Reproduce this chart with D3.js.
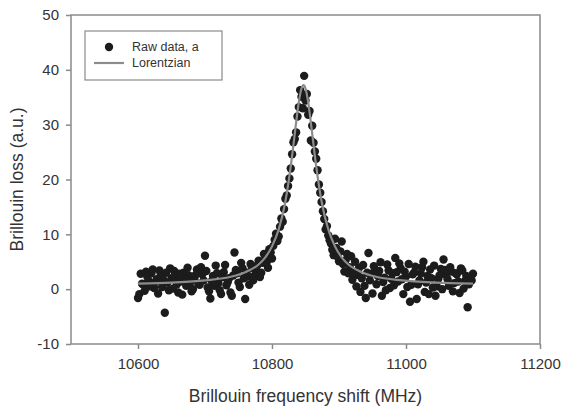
<!DOCTYPE html>
<html>
<head>
<meta charset="utf-8">
<script src="https://cdn.jsdelivr.net/npm/d3@7"></script>
<style>
  body { margin: 0; background: #fff; }
  text { font-family: Arial, "Liberation Sans", sans-serif; fill: #333; }
</style>
</head>
<body>
<script>
const width = 562;
const height = 412;

// raw points [frequency MHz, loss a.u.]
const rawData = [
  [10600, -1.6], [10602, -0.9], [10604, 2.8], [10608, 0.9], [10612, 3.2], [10616, 1.5],
  [10620, 2.9], [10624, 0.2], [10628, 1.8], [10632, 3.4], [10636, 0.4], [10640, -4.3],
  [10644, 1.2], [10648, 3.8], [10652, 0.1], [10656, 2.2], [10660, -0.6], [10664, 1.4],
  [10668, 3.0], [10672, 0.6], [10676, 2.5], [10680, -0.4], [10684, 1.9], [10688, 3.6],
  [10692, 0.8], [10696, 2.7], [10700, 6.1], [10704, 0.3], [10708, -1.7], [10712, 2.4],
  [10716, 4.3], [10720, 1.1], [10724, -0.9], [10728, 3.1], [10732, 0.7], [10736, 2.0],
  [10740, -1.2], [10744, 6.7], [10748, 2.9], [10752, 0.4], [10756, 3.8], [10760, -1.8],
  [10764, 2.3], [10768, 4.6], [10772, 1.6], [10776, 3.4], [10780, 5.2], [10784, 3.0],
  [10788, 6.4], [10792, 4.9], [10796, 7.3], [10800, 5.6], [10804, 9.0], [10808, 8.8],
  [10812, 11.4], [10816, 12.3], [10820, 16.5], [10824, 18.8], [10828, 22.0], [10832, 26.8],
  [10836, 28.6], [10838, 31.5], [10840, 33.2], [10842, 36.3], [10844, 35.1], [10846, 33.0],
  [10848, 38.9], [10850, 34.4], [10852, 35.6], [10854, 31.8], [10856, 32.5], [10858, 27.1],
  [10860, 29.8], [10864, 25.1], [10868, 21.7], [10872, 17.6], [10876, 14.2], [10880, 10.9],
  [10884, 9.8], [10888, 8.3], [10892, 6.2], [10896, 7.5], [10900, 5.1], [10904, 8.7],
  [10908, 3.2], [10912, 6.4], [10916, 4.0], [10920, 1.7], [10924, 5.0], [10928, 2.6],
  [10932, -0.5], [10936, 4.4], [10940, -1.6], [10944, 6.6], [10948, 2.8], [10952, 4.2],
  [10956, 0.9], [10960, 3.3], [10964, -1.2], [10968, 2.1], [10972, 4.5], [10976, 0.2],
  [10980, 2.9], [10984, 5.7], [10988, 1.4], [10992, 3.8], [10996, -0.9], [11000, 2.3],
  [11004, 4.6], [11006, -2.3], [11008, 0.8], [11012, 3.0], [11016, -1.8], [11020, 1.6],
  [11024, 4.0], [11028, -0.5], [11032, 2.4], [11036, 3.6], [11040, 0.3], [11044, -1.2],
  [11048, 1.8], [11052, 3.7], [11056, 5.4], [11060, 2.6], [11064, 0.6], [11068, 3.2],
  [11072, 1.1], [11076, 2.7], [11080, -0.7], [11084, 3.4], [11088, 1.5], [11092, -3.3],
  [11096, 2.1], [11100, 2.8]
];

// second sweep, interleaved between the first
const rawDataB = [
  [10606, 1.0], [10610, -0.3], [10614, 2.2], [10618, 0.5], [10622, 3.6], [10626, 1.3],
  [10630, -0.8], [10634, 2.6], [10638, 1.7], [10642, 3.0], [10646, -0.2], [10650, 2.0],
  [10654, 3.3], [10658, 0.9], [10662, 2.8], [10666, -1.0], [10670, 1.9], [10674, 3.9],
  [10678, 1.2], [10682, 0.0], [10686, 2.6], [10690, 1.0], [10694, 4.0], [10698, 1.6],
  [10702, 3.3], [10706, -0.4], [10710, 1.5], [10714, 0.6], [10718, 2.9], [10722, -0.2],
  [10726, 2.2], [10730, 4.4], [10734, 1.3], [10738, -0.6], [10742, 2.5], [10746, 3.5],
  [10750, 1.2], [10754, 4.8], [10758, 2.0], [10762, 3.0], [10766, 0.8], [10770, 3.9],
  [10774, 2.5], [10778, 4.3], [10782, 2.2], [10786, 4.8], [10790, 5.6], [10794, 3.9],
  [10798, 6.7], [10802, 7.9], [10806, 10.1], [10810, 9.6], [10814, 12.9], [10818, 14.6],
  [10822, 17.1], [10826, 20.2], [10830, 24.6], [10834, 27.4], [10862, 26.7], [10866, 23.8],
  [10870, 19.1], [10874, 15.9], [10878, 12.8], [10882, 11.5], [10886, 8.9], [10890, 7.2],
  [10894, 9.2], [10898, 5.9], [10902, 6.9], [10906, 4.6], [10910, 5.3], [10914, 2.9],
  [10918, 6.0], [10922, 3.1], [10926, 0.5], [10930, 3.9], [10934, 2.0], [10938, 0.6],
  [10942, 3.0], [10946, 1.6], [10950, -0.8], [10954, 3.5], [10958, 2.4], [10962, 4.9],
  [10966, 1.3], [10970, -0.2], [10974, 3.4], [10978, 1.9], [10982, 0.7], [10986, 3.1],
  [10990, 4.7], [10994, 1.8], [10998, 3.2], [11002, 0.4], [11010, 2.7], [11014, 4.1],
  [11018, 0.9], [11022, 2.9], [11026, 5.0], [11030, 1.2], [11034, -0.9], [11038, 2.0],
  [11042, 4.3], [11046, 0.5], [11050, 2.5], [11054, 0.0], [11058, 3.5], [11062, 1.8],
  [11066, 4.0], [11070, -0.4], [11074, 2.9], [11078, 1.4], [11082, 3.8], [11086, 0.1],
  [11090, 2.4], [11094, 0.9], [11098, 1.6]
];

// fitted Lorentzian curve
const fitX = [10600, 10650, 10700, 10740, 10760, 10780, 10790, 10800, 10810, 10820,
  10825, 10830, 10835, 10840, 10844, 10847, 10850, 10854, 10859, 10864, 10869, 10874,
  10884, 10894, 10904, 10914, 10934, 10954, 10994, 11044, 11100];
const fitY = [1.0, 1.2, 1.6, 2.3, 3.1, 4.5, 5.8, 7.8, 10.9, 16.0,
  19.8, 24.3, 29.4, 34.1, 36.6, 37.2, 36.6, 34.1, 29.4, 24.3, 19.8, 16.0,
  10.9, 7.8, 5.8, 4.5, 3.1, 2.3, 1.6, 1.2, 1.0];

const xTicks = [10600, 10800, 11000, 11200];
const yTicks = [-10, 0, 10, 20, 30, 40, 50];

const plotLeft = 71, plotRight = 540, plotTop = 15, plotBottom = 344;

const xScale = d3.scaleLinear().domain([10500, 11200]).range([plotLeft, plotRight]);
const yScale = d3.scaleLinear().domain([-10, 50]).range([plotBottom, plotTop]);

const svg = d3.select("body").append("svg")
  .attr("width", width)
  .attr("height", height);

// frame
svg.append("rect")
  .attr("x", plotLeft).attr("y", plotTop)
  .attr("width", plotRight - plotLeft).attr("height", plotBottom - plotTop)
  .attr("fill", "none").attr("stroke", "#8a8a8a").attr("stroke-width", 1.5);

const plainNum = function(d) { return String(d); };

const xAxis = svg.append("g")
  .attr("transform", "translate(0," + plotBottom + ")")
  .call(d3.axisBottom(xScale).tickValues(xTicks).tickSize(5).tickPadding(9).tickFormat(plainNum));
const yAxis = svg.append("g")
  .attr("transform", "translate(" + plotLeft + ",0)")
  .call(d3.axisLeft(yScale).tickValues(yTicks).tickSize(5).tickPadding(7).tickFormat(plainNum));

[xAxis, yAxis].forEach(function(g) {
  g.select(".domain").remove();
  g.selectAll(".tick line").attr("stroke", "#8a8a8a").attr("stroke-width", 1.5);
  g.selectAll(".tick text").style("font-size", "15px").attr("fill", "#333")
    .style("font-family", "Arial, 'Liberation Sans', sans-serif");
});

// points
svg.append("g").selectAll("circle")
  .data(rawData.concat(rawDataB))
  .enter()
  .append("circle")
    .attr("cx", function(d) { return xScale(d[0]); })
    .attr("cy", function(d) { return yScale(d[1]); })
    .attr("r", 4.2)
    .attr("fill", "#1c1c1c");

// fit line
const line = d3.line()
  .x(function(d, i) { return xScale(fitX[i]); })
  .y(function(d) { return yScale(d); })
  .curve(d3.curveMonotoneX);

svg.append("path")
  .datum(fitY)
  .attr("d", line)
  .attr("fill", "none")
  .attr("stroke", "#8c8c8c")
  .attr("stroke-width", 2.2);

// legend
const legend = svg.append("g");
legend.append("rect")
  .attr("x", 85).attr("y", 31).attr("width", 137).attr("height", 49)
  .attr("fill", "#fff").attr("stroke", "#8a8a8a").attr("stroke-width", 1.2);
legend.append("circle").attr("cx", 109).attr("cy", 47).attr("r", 4.2).attr("fill", "#1c1c1c");
legend.append("line").attr("x1", 94).attr("x2", 124).attr("y1", 63).attr("y2", 63)
  .attr("stroke", "#8c8c8c").attr("stroke-width", 2.2);
legend.append("text").attr("x", 132).attr("y", 51).style("font-size", "12.5px").text("Raw data, a");
legend.append("text").attr("x", 132).attr("y", 67).style("font-size", "12.5px").text("Lorentzian");

// axis titles
svg.append("text")
  .attr("x", (plotLeft + plotRight) / 2).attr("y", 402)
  .attr("text-anchor", "middle")
  .style("font-size", "17.5px")
  .text("Brillouin frequency shift (MHz)");

svg.append("text")
  .attr("transform", "translate(23," + ((plotTop + plotBottom) / 2) + ") rotate(-90)")
  .attr("text-anchor", "middle")
  .style("font-size", "17.5px")
  .text("Brillouin loss (a.u.)");
</script>
</body>
</html>
